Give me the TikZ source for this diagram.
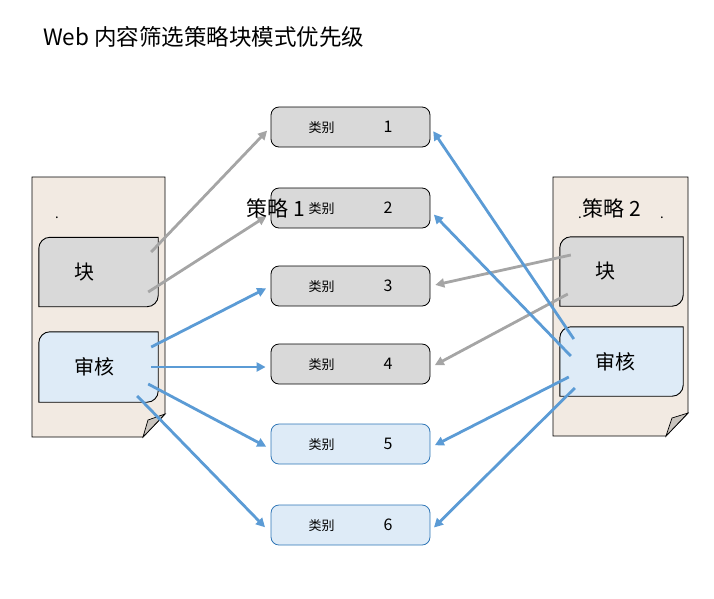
\documentclass[tikz,border=0pt]{standalone}
\usepackage{fontspec}
\setmainfont{Noto Sans CJK SC}
\usetikzlibrary{arrows.meta}

\definecolor{docbg}{HTML}{F2EAE2}
\definecolor{foldgray}{HTML}{C9C4BE}
\definecolor{blkgray}{HTML}{D9D9D9}
\definecolor{audblue}{HTML}{DEEBF7}
\definecolor{audline}{HTML}{2E75B6}
\definecolor{arrblue}{HTML}{5B9BD5}
\definecolor{arrgray}{HTML}{A5A5A5}

\tikzset{
  doc/.style={draw=black, line width=0.9pt, fill=docbg},
  fold/.style={draw=black, line width=0.7pt, fill=foldgray},
  inner/.style={draw=none, inner sep=0pt, minimum height=69pt},
  grayfill/.style={draw=black, line width=0.9pt, fill=blkgray},
  bluefill/.style={draw=black, line width=0.9pt, fill=audblue},
  boxlabel/.style={font=\fontsize{20}{24}\selectfont, inner sep=0pt},
  catgray/.style={draw=black, line width=0.8pt, fill=blkgray, rounded corners=8pt,
    minimum width=159pt, minimum height=40pt, inner sep=0pt},
  catblue/.style={catgray, draw=audline, fill=audblue},
  grayarrow/.style={draw=arrgray, line width=2.8pt, -{Triangle[length=9pt,width=9pt]}, shorten >=5pt},
  bluearrow/.style={grayarrow, draw=arrblue},
}

% box with two round corners (top left, bottom right)
\newcommand{\cornerbox}[3]{%
  \draw[#1] (#2.south west) -- ([yshift=-11pt]#2.north west)
    .. controls ([yshift=-5pt]#2.north west) and ([xshift=5pt]#2.north west) .. ([xshift=11pt]#2.north west)
    -- (#2.north east) -- ([yshift=11pt]#2.south east)
    .. controls ([yshift=5pt]#2.south east) and ([xshift=-5pt]#2.south east) .. ([xshift=-11pt]#2.south east) -- cycle;
  \node[boxlabel, anchor=west] (#2txt) at ([xshift=35pt]#2.west) {#3};}

\newcommand{\cattext}[1]{{\fontsize{13}{15}\selectfont 类别}\hspace{49pt}{\fontsize{16}{19}\selectfont #1}}

\begin{document}
\begin{tikzpicture}[x=1pt,y=-1pt]
    \useasboundingbox (0,0) rectangle (714,598);

    \node[anchor=west, inner sep=0pt, font=\fontsize{22.5}{27}\selectfont] (title) at (43,37) {Web 内容筛选策略块模式优先级};

    % policy documents
    \draw[doc] (32,177) -- (165,177) -- (165,414) -- (143,437) -- (32,437) -- cycle;
    \draw[fold] (143,437) -- (148,420) -- (165,414) -- cycle;
    \draw[doc] (553,177) -- (688,177) -- (688,413) -- (666,436) -- (553,436) -- cycle;
    \draw[fold] (666,436) -- (672,418) -- (688,413) -- cycle;

    \node[inner, minimum width=119pt] (lblk) at (98.5,272) {};
    \node[inner, minimum width=119pt, minimum height=70pt] (laud) at (98.5,367) {};
    \node[inner, minimum width=123pt] (rblk) at (621.5,271.5) {};
    \node[inner, minimum width=123pt] (raud) at (621.5,361.5) {};
    \cornerbox{grayfill}{lblk}{块}
    \cornerbox{bluefill}{laud}{审核}
    \cornerbox{grayfill}{rblk}{块}
    \cornerbox{bluefill}{raud}{审核}

    % categories
    \foreach \i/\y in {1/127, 2/208, 3/286, 4/364}
        \node[catgray] (c\i) at (350.5,\y) {\cattext{\i}};
    \foreach \i/\y in {5/444, 6/525}
        \node[catblue] (c\i) at (350.5,\y) {\cattext{\i}};

    % policy 1
    \draw[grayarrow] ([xshift=-7pt,yshift=20pt]lblk.east) -- (c1.west);
    \draw[grayarrow] ([xshift=-10pt,yshift=-20pt]lblk.east) -- ([yshift=-5.5pt]c2.west);
    \draw[bluearrow] ([xshift=-7pt,yshift=20pt]laud.east) -- (c3.west);
    \draw[bluearrow] ([xshift=-7pt]laud.east) -- ([yshift=-3pt]c4.west);
    \draw[bluearrow] ([xshift=-10pt,yshift=-17pt]laud.east) -- ([yshift=-5pt]c5.west);
    \draw[bluearrow, shorten >=8pt] ([xshift=-21pt,yshift=-29pt]laud.east) -- ([yshift=-8pt]c6.west);

    % policy 2
    \draw[grayarrow] ([xshift=11pt,yshift=16.5pt]rblk.west) -- (c3.east);
    \draw[grayarrow] ([xshift=8pt,yshift=-22.5pt]rblk.west) -- ([yshift=-3.5pt]c4.east);
    \draw[bluearrow] ([xshift=14pt,yshift=22.5pt]raud.west) -- (c1.east);
    \draw[bluearrow] ([xshift=11pt,yshift=5.5pt]raud.west) -- ([yshift=-3pt]c2.east);
    \draw[bluearrow] ([xshift=9pt,yshift=-15.5pt]raud.west) -- ([yshift=-3.5pt]c5.east);
    \draw[bluearrow] ([xshift=15pt,yshift=-26.5pt]raud.west) -- ([yshift=-6pt]c6.east);

    \node[font=\fontsize{21}{25}\selectfont, inner sep=0pt] (pol1) at (276,208) {策略 1};
    \node[font=\fontsize{21}{25}\selectfont, inner sep=0pt] (pol2) at (612,208) {策略 2};
    \node[font=\fontsize{13}{15}\selectfont, inner sep=0pt] (dot1) at (57,218) {.};
    \node[font=\fontsize{13}{15}\selectfont, inner sep=0pt] (dot2) at (580,218) {.};
    \node[font=\fontsize{13}{15}\selectfont, inner sep=0pt] (dot3) at (662,218) {.};
\end{tikzpicture}
\end{document}
